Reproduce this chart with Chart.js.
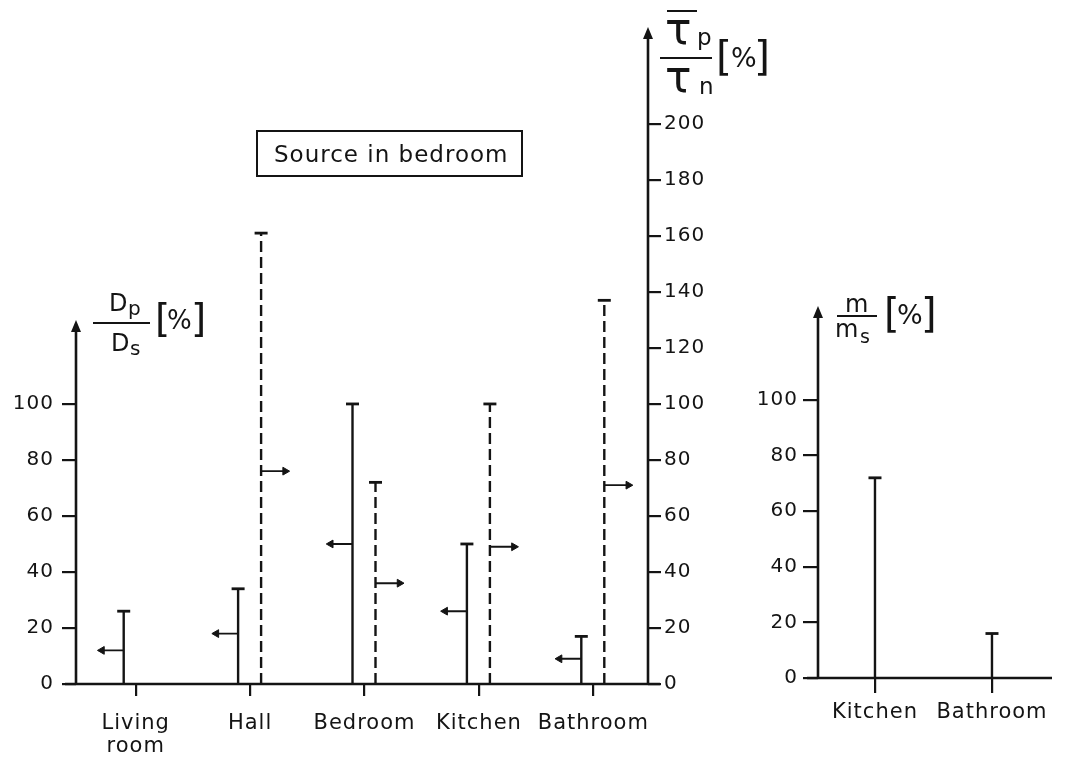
<!DOCTYPE html>
<html>
<head>
<meta charset="utf-8">
<title>Source in bedroom</title>
<script src="https://cdn.jsdelivr.net/npm/chart.js@4.4.0/dist/chart.umd.min.js"></script>
<style>
    html, body { margin: 0; padding: 0; background: #fff; }
    #wrap { position: relative; width: 1065px; height: 765px; }
    #wrap canvas { position: absolute; left: 0; top: 0; }
</style>
</head>
<body>
<div id="wrap">
    <canvas id="rooms" width="1065" height="765"></canvas>
    <canvas id="mass" width="1065" height="765"></canvas>
</div>
<script>
// Rooms on the left panel
const rooms = ['Living room', 'Hall', 'Bedroom', 'Kitchen', 'Bathroom'];
const roomLabels = [['Living', 'room'], 'Hall', 'Bedroom', 'Kitchen', 'Bathroom'];

// Dp/Ds [%]: solid stems and their left-pointing arrows
const dpTop = [26, 34, 100, 50, 17];
const dpArrow = [12, 18, 50, 26, 9];

// Tp/Tn [%]: dashed stems and their right-pointing arrows (nothing for living room)
const tpTop = [null, 161, 72, 100, 137];
const tpArrow = [null, 76, 36, 49, 71];

const dpTicks = [0, 20, 40, 60, 80, 100];
const tpTicks = [0, 20, 40, 60, 80, 100, 120, 140, 160, 180, 200];

// m/ms [%] on the right panel
const massRooms = ['Kitchen', 'Bathroom'];
const massTop = [72, 16];
const massTicks = [0, 20, 40, 60, 80, 100];

const ink = '#141414';
const font = "'DejaVu Sans', sans-serif";

Chart.defaults.font.family = font;
Chart.defaults.color = ink;

/**
 * One stem per value: base at 0, cap at the value, then a gap
 */
function stemPoints(values, shift) {
    const pts = [];
    values.forEach((v, i) => {
        if (v === null) return;
        pts.push({ x: i + shift, y: 0 }, { x: i + shift, y: v, cap: true }, { x: i + shift, y: null });
    });
    return pts;
}

/**
 * Short horizontal arrow leaving a stem at the given height
 */
function arrowPoints(values, shift, length) {
    const pts = [];
    values.forEach((v, i) => {
        if (v === null) return;
        pts.push({ x: i + shift, y: v }, { x: i + shift + length, y: v, head: true }, { x: i + shift, y: null });
    });
    return pts;
}

function stemSet(data, yAxisID, dash) {
    return {
        data: data,
        yAxisID: yAxisID,
        borderColor: ink,
        borderWidth: 2.4,
        borderDash: dash,
        spanGaps: false,
        fill: false,
        tension: 0,
        pointStyle: 'line',
        pointRadius: (ctx) => (ctx.raw && ctx.raw.cap ? 6.5 : 0),
        pointBorderWidth: 2.8,
        pointBorderColor: ink
    };
}

function arrowSet(data, yAxisID, rotation) {
    return {
        data: data,
        yAxisID: yAxisID,
        borderColor: ink,
        borderWidth: 1.9,
        spanGaps: false,
        fill: false,
        tension: 0,
        pointStyle: 'triangle',
        pointRotation: rotation,
        pointRadius: (ctx) => (ctx.raw && ctx.raw.head ? 4.5 : 0),
        pointBorderWidth: 1,
        pointBorderColor: ink,
        pointBackgroundColor: ink
    };
}

function valueScale(position, ticks, max, width, tickLength, padding) {
    return {
        type: 'linear',
        position: position,
        min: 0,
        max: max,
        afterBuildTicks: (scale) => { scale.ticks = ticks.map(v => ({ value: v })); },
        afterFit: (scale) => { scale.width = width; },
        ticks: { callback: (v) => String(v), color: ink, font: { size: 20 }, padding: padding },
        grid: { drawOnChartArea: false, drawTicks: true, tickLength: tickLength, color: ink, lineWidth: 2.2 },
        border: { display: false }
    };
}

function roomScale(labels, min, max, height, tickLength, padding) {
    return {
        type: 'linear',
        position: 'bottom',
        min: min,
        max: max,
        afterBuildTicks: (scale) => { scale.ticks = labels.map((_, i) => ({ value: i })); },
        afterFit: (scale) => { scale.height = height; },
        ticks: {
            callback: (v) => labels[v],
            autoSkip: false,
            maxRotation: 0,
            color: ink,
            font: { size: 21, lineHeight: 1.1 },
            padding: padding
        },
        grid: { drawOnChartArea: false, drawTicks: true, tickLength: tickLength, color: ink, lineWidth: 2.2 },
        border: { display: false }
    };
}

function text(ctx, str, x, y, size) {
    ctx.font = size + 'px ' + font;
    ctx.textAlign = 'left';
    ctx.textBaseline = 'alphabetic';
    ctx.fillText(str, x, y);
}

function hline(ctx, x1, x2, y) {
    ctx.beginPath();
    ctx.moveTo(x1, y);
    ctx.lineTo(x2, y);
    ctx.stroke();
}

// axis line with a filled arrowhead on top
function upArrow(ctx, x, yBase, yTip) {
    ctx.beginPath();
    ctx.moveTo(x, yBase);
    ctx.lineTo(x, yTip + 8);
    ctx.stroke();
    ctx.beginPath();
    ctx.moveTo(x, yTip);
    ctx.lineTo(x - 5, yTip + 12);
    ctx.lineTo(x + 5, yTip + 12);
    ctx.closePath();
    ctx.fill();
}

const spacing = {
    id: 'spacing',
    beforeDraw(chart) { chart.ctx.letterSpacing = '1px'; }
};

const roomsDecor = {
    id: 'roomsDecor',
    afterDraw(chart) {
        const ctx = chart.ctx;
        const area = chart.chartArea;
        const base = chart.scales.yD.getPixelForValue(0);
        ctx.save();
        ctx.strokeStyle = ink;
        ctx.fillStyle = ink;
        ctx.lineWidth = 2.6;
        hline(ctx, area.left - 11, area.right + 12, base);
        upArrow(ctx, area.left, base, chart.scales.yD.getPixelForValue(130));
        upArrow(ctx, area.right, base, area.top);

        // Dp / Ds [%]
        ctx.lineWidth = 2;
        text(ctx, 'D', 109, 311, 24);
        text(ctx, 'p', 128, 315, 20);
        hline(ctx, 93, 150, 323);
        text(ctx, 'D', 111, 351, 24);
        text(ctx, 's', 130, 355, 20);
        text(ctx, '[', 155, 332, 39);
        text(ctx, '%', 167, 329, 26);
        text(ctx, ']', 191, 332, 39);

        // mean Tp over Tn [%]
        ctx.letterSpacing = '0px';
        hline(ctx, 667, 697, 11);
        text(ctx, 'τ', 665, 44, 44);
        text(ctx, 'p', 697, 45, 23);
        hline(ctx, 660, 712, 58);
        text(ctx, 'τ', 665, 92, 44);
        text(ctx, 'n', 699, 94, 23);
        text(ctx, '[', 716, 70, 41);
        text(ctx, '%', 731, 67, 27);
        text(ctx, ']', 754, 70, 41);
        ctx.letterSpacing = '1px';

        // label box
        ctx.strokeRect(257, 131, 265, 45);
        text(ctx, 'Source in bedroom', 274, 162, 23);
        ctx.restore();
    }
};

const massDecor = {
    id: 'massDecor',
    afterDraw(chart) {
        const ctx = chart.ctx;
        const area = chart.chartArea;
        const base = chart.scales.y.getPixelForValue(0);
        ctx.save();
        ctx.strokeStyle = ink;
        ctx.fillStyle = ink;
        ctx.lineWidth = 2.6;
        hline(ctx, area.left - 11, area.right, base);
        upArrow(ctx, area.left, base, area.top);

        // m / ms [%]
        ctx.lineWidth = 2;
        text(ctx, 'm', 845, 312, 24);
        hline(ctx, 837, 877, 316);
        text(ctx, 'm', 835, 337, 24);
        text(ctx, 's', 860, 343, 19);
        text(ctx, '[', 884, 327, 40);
        text(ctx, '%', 897, 324, 27);
        text(ctx, ']', 921, 327, 40);
        ctx.restore();
    }
};

const baseOptions = {
    responsive: false,
    animation: false,
    events: [],
    plugins: { legend: { display: false }, tooltip: { enabled: false } }
};

// left panel: both value axes use the same pixels per percent
new Chart(document.getElementById('rooms'), {
    type: 'line',
    data: {
        datasets: [
            stemSet(stemPoints(dpTop, -0.105), 'yD', []),
            arrowSet(arrowPoints(dpArrow, -0.105, -0.19), 'yD', 270),
            stemSet(stemPoints(tpTop, 0.096), 'yT', [11, 5]),
            arrowSet(arrowPoints(tpArrow, 0.096, 0.21), 'yT', 90)
        ]
    },
    options: Object.assign({}, baseOptions, {
        layout: { padding: { top: 27, left: 0, right: 297, bottom: 0 } },
        scales: {
            x: roomScale(roomLabels, -0.522, 4.478, 81, 12, 16),
            yD: valueScale('left', dpTicks, 234.6, 76, 14, 8),
            yT: valueScale('right', tpTicks, 234.6, 120, 13, 3)
        }
    }),
    plugins: [spacing, roomsDecor]
});

// right panel
new Chart(document.getElementById('mass'), {
    type: 'line',
    data: {
        datasets: [stemSet(stemPoints(massTop, 0), 'y', [])]
    },
    options: Object.assign({}, baseOptions, {
        layout: { padding: { top: 306, left: 738, right: 13, bottom: 0 } },
        scales: {
            x: roomScale(massRooms, -0.487, 1.513, 87, 15, 8),
            y: valueScale('left', massTicks, 133.8, 80, 15, 5)
        }
    }),
    plugins: [spacing, massDecor]
});
</script>
</body>
</html>
